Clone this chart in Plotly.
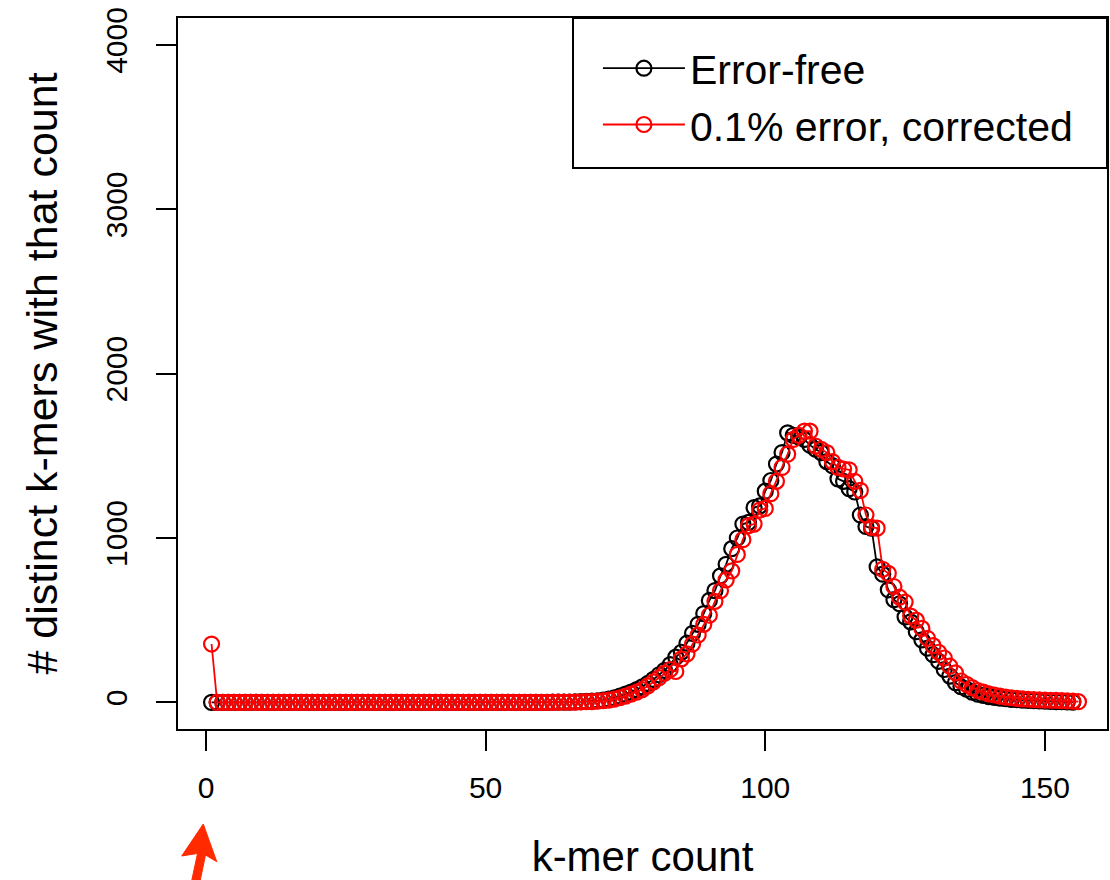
import plotly.graph_objects as go

# ---- data -------------------------------------------------------------
kmer_count_black = list(range(1, 156))
error_free = [
    0, 0, 0, 0, 0, 0, 0, 0, 0, 0,
    0, 0, 0, 0, 0, 0, 0, 0, 0, 0,
    0, 0, 0, 0, 0, 0, 0, 0, 0, 0,
    0, 0, 0, 0, 0, 0, 0, 0, 0, 0,
    0, 0, 0, 0, 0, 0, 0, 0, 0, 0,
    0, 0, 0, 0, 0, 0, 0, 0, 0, 0,
    0, 1, 1, 2, 2, 3, 4, 6, 8, 10,
    14, 20, 28, 38, 50, 62, 78, 95, 115, 140,
    168, 195, 230, 275, 305, 360, 420, 475, 540, 620,
    680, 770, 840, 935, 1000, 1085, 1095, 1185, 1195, 1285,
    1350, 1450, 1520, 1640, 1625, 1615, 1600, 1565, 1540, 1520,
    1465, 1440, 1360, 1345, 1300, 1280, 1140, 1070, 1060, 825,
    780, 685, 625, 600, 520, 490, 430, 380, 330, 290,
    250, 200, 160, 120, 95, 80, 62, 50, 42, 35,
    30, 25, 22, 18, 16, 14, 12, 11, 9, 8,
    6, 5, 4, 3, 2,
]

kmer_count_red = list(range(1, 157))
error_corrected = [
    355, 0, 0, 0, 0, 0, 0, 0, 0, 0,
    0, 0, 0, 0, 0, 0, 0, 0, 0, 0,
    0, 0, 0, 0, 0, 0, 0, 0, 0, 0,
    0, 0, 0, 0, 0, 0, 0, 0, 0, 0,
    0, 0, 0, 0, 0, 0, 0, 0, 0, 0,
    0, 0, 0, 0, 0, 0, 0, 0, 0, 0,
    0, 0, 1, 1, 2, 2, 3, 4, 5, 7,
    10, 14, 20, 28, 38, 50, 62, 78, 100, 125,
    150, 178, 200, 188, 265, 295, 355, 410, 475, 530,
    615, 680, 745, 800, 900, 990, 1075, 1085, 1170, 1180,
    1270, 1345, 1430, 1510, 1600, 1625, 1650, 1650, 1560, 1540,
    1520, 1465, 1430, 1420, 1415, 1345, 1290, 1140, 1065, 1060,
    810, 785, 705, 640, 610, 525, 500, 450, 390, 345,
    305, 270, 220, 180, 130, 110, 90, 72, 62, 52,
    45, 38, 32, 28, 24, 21, 19, 17, 15, 14,
    13, 12, 11, 9, 7, 4,
]

x_ticks = [0, 50, 100, 150]
y_ticks = [0, 1000, 2000, 3000, 4000]
series_names = ["Error-free", "0.1% error, corrected"]

FONT = "Liberation Sans, Arial, sans-serif"

fig = go.Figure()
fig.add_trace(go.Scatter(
    x=kmer_count_black, y=error_free, name=series_names[0],
    mode="lines+markers",
    line=dict(color="black", width=1.8),
    marker=dict(symbol="circle-open", size=15, color="black", line=dict(width=2.2)),
))
fig.add_trace(go.Scatter(
    x=kmer_count_red, y=error_corrected, name=series_names[1],
    mode="lines+markers",
    line=dict(color="#ff0000", width=1.8),
    marker=dict(symbol="circle-open", size=15, color="#ff0000", line=dict(width=2.2)),
))

fig.update_layout(
    width=1110, height=880, autosize=False,
    margin=dict(l=178, r=3, t=18, b=151),
    paper_bgcolor="white", plot_bgcolor="white",
    font=dict(family=FONT, color="black"),
    showlegend=True,
    legend=dict(
        x=0.452, y=0.976, xanchor="left", yanchor="top",
        bgcolor="rgba(0,0,0,0)", borderwidth=0,
        font=dict(size=41, family=FONT, color="black"),
        tracegroupgap=0, itemwidth=82,
    ),
    xaxis=dict(
        range=[-5.0, 161.1], tickvals=x_ticks, ticktext=[str(v) for v in x_ticks],
        showgrid=False, zeroline=False, automargin=False,
        showline=True, mirror=True, linecolor="black", linewidth=2,
        ticks="outside", ticklen=20, tickwidth=2, tickcolor="black",
        tickfont=dict(size=30, family=FONT), ticklabelstandoff=11,
        title=dict(text="k-mer count", font=dict(size=42, family=FONT), standoff=48),
    ),
    yaxis=dict(
        range=[-162, 4164], tickvals=y_ticks, ticktext=[str(v) for v in y_ticks],
        showgrid=False, zeroline=False, automargin=False,
        showline=True, mirror=True, linecolor="black", linewidth=2,
        ticks="outside", ticklen=20, tickwidth=2, tickcolor="black",
        tickangle=-90, tickfont=dict(size=30, family=FONT), ticklabelstandoff=17,
        title=dict(text="# distinct k-mers with that count", font=dict(size=43, family=FONT), standoff=29),
    ),
)

# legend frame (R style box)
fig.add_shape(type="rect", xref="paper", yref="paper",
              x0=0.4252, x1=1.0, y0=0.789, y1=1.0,
              line=dict(color="black", width=2), fillcolor="rgba(0,0,0,0)", layer="above")

# red annotation arrow under the x axis pointing at k-mer count 1
fig.add_shape(type="path", xref="paper", yref="paper",
              path="M 0.0272 -0.1336 L 0.0040 -0.1786 L 0.0210 -0.1751 L 0.0140 -0.2180 "
                   "L 0.0231 -0.2180 L 0.0296 -0.1772 L 0.0417 -0.1866 Z",
              fillcolor="#ff2a00", line=dict(color="#ff2a00", width=1), layer="above")

fig.write_html("out.html", config={"displayModeBar": False},
               post_script="document.body.style.margin='0';")
